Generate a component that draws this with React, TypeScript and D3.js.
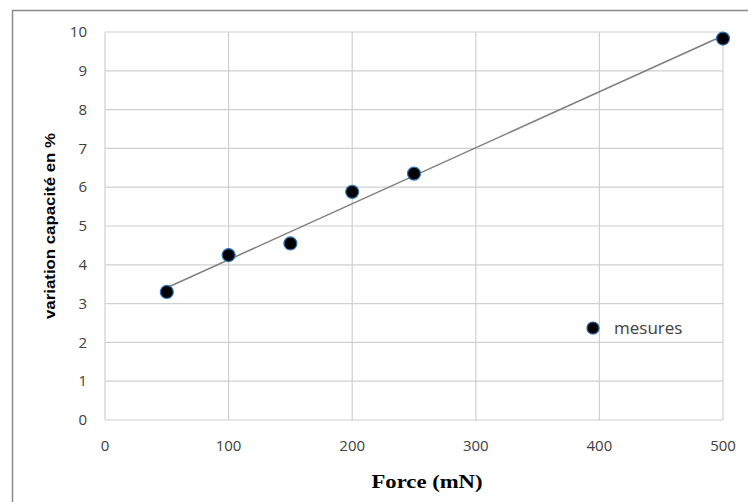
import React from "react";
import * as d3 from "d3";

const forces = [50, 100, 150, 200, 250, 500];
const variations = [3.3, 4.25, 4.55, 5.88, 6.35, 9.83];
const xTicks = [0, 100, 200, 300, 400, 500];
const yTicks = [0, 1, 2, 3, 4, 5, 6, 7, 8, 9, 10];
const seriesName = "mesures";
const xTitle = "Force (mN)";
const yTitle = "variation capacité en %";

export default function App() {
  const W = 748, H = 502;
  const left = 105, right = 723, top = 32, bottom = 420;
  const x = d3.scaleLinear().domain([0, 500]).range([left, right]);
  const y = d3.scaleLinear().domain([0, 10]).range([bottom, top]);

  const mx = d3.mean(forces)!;
  const my = d3.mean(variations)!;
  const sxy = d3.sum(forces.map((f, i) => (f - mx) * (variations[i] - my)));
  const sxx = d3.sum(forces.map((f) => (f - mx) * (f - mx)));
  const slope = sxy / sxx;
  const intercept = my - slope * mx;
  const x0 = d3.min(forces)!, x1 = d3.max(forces)!;
  const line = d3.line<number>().x((d) => x(d)).y((d) => y(intercept + slope * d));

  const grid = "#d0d0d0";
  const tickFont = "'Open Sans', 'Noto Sans', sans-serif";

  return (
    <svg width={W} height={H} style={{ position: "absolute", left: 0, top: 0, background: "#fff" }}>
      <rect x={12.5} y={10.5} width={W + 10} height={H + 10} fill="#fff" stroke="#8a8a8a" strokeWidth={1.5} />
      {yTicks.map((t) => (
        <line key={"gy" + t} x1={left} x2={right} y1={y(t)} y2={y(t)} stroke={grid} strokeWidth={1.2} />
      ))}
      {xTicks.map((t) => (
        <line key={"gx" + t} x1={x(t)} x2={x(t)} y1={top} y2={bottom} stroke={grid} strokeWidth={1.2} />
      ))}
      {yTicks.map((t) => (
        <text key={"ty" + t} x={87} y={y(t)} dy="0.35em" textAnchor="end" fontFamily={tickFont} fontSize={15} fill="#404040">
          {t}
        </text>
      ))}
      {xTicks.map((t) => (
        <text key={"tx" + t} x={x(t)} y={446} dy="0.35em" textAnchor="middle" fontFamily={tickFont} fontSize={15} fill="#404040">
          {t}
        </text>
      ))}
      <path d={line([x0, x1])!} stroke="#7f7f7f" strokeWidth={1.5} fill="none" />
      {forces.map((f, i) => (
        <circle key={"p" + i} cx={x(f)} cy={y(variations[i])} r={6.5} fill="#000" stroke="#2e75b6" strokeWidth={1.2} />
      ))}
      <circle cx={593} cy={328} r={6} fill="#000" stroke="#1f5f9e" strokeWidth={1.2} />
      <text x={614} y={328} dy="0.35em" fontFamily={tickFont} fontSize={17} fill="#404040">
        {seriesName}
      </text>
      <text
        transform={`translate(50, ${(top + bottom) / 2}) rotate(-90)`}
        textAnchor="middle"
        dy="0.35em"
        fontFamily="'Liberation Sans', Arial, sans-serif"
        fontWeight="bold"
        fontSize={14}
        textLength={186}
        lengthAdjust="spacingAndGlyphs"
        fill="#000"
      >
        {yTitle}
      </text>
      <text
        x={427}
        y={488}
        textAnchor="middle"
        fontFamily="'Liberation Serif', 'Times New Roman', serif"
        fontWeight="bold"
        fontSize={19}
        textLength={111}
        lengthAdjust="spacingAndGlyphs"
        fill="#000"
      >
        {xTitle}
      </text>
    </svg>
  );
}
